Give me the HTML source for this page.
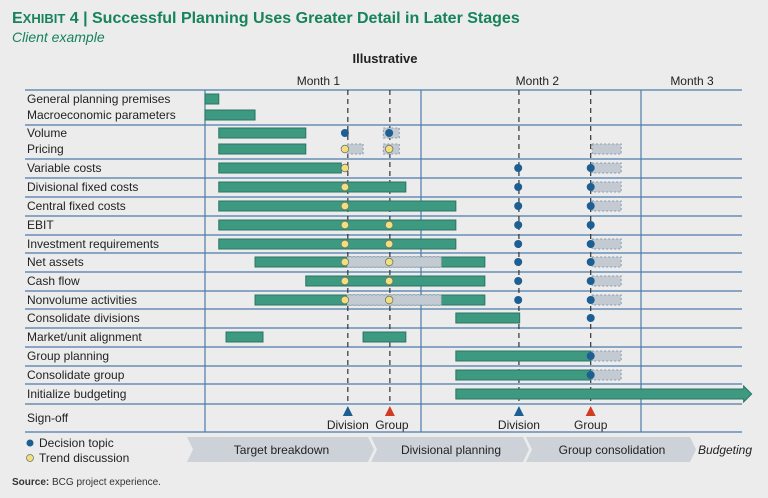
<!DOCTYPE html>
<html><head><meta charset="utf-8"><style>
body{margin:0;background:#ececed;}
svg{display:block;font-family:"Liberation Sans",sans-serif;}
</style></head><body>
<svg width="768" height="498" viewBox="0 0 768 498">
<text x="12" y="23" font-size="16" font-weight="bold" fill="#16835a">E<tspan font-size="13">XHIBIT</tspan> 4 | Successful Planning Uses Greater Detail in Later Stages</text>
<text x="12" y="42" font-size="14" font-style="italic" fill="#16835a">Client example</text>
<text x="385" y="63" font-size="13" font-weight="bold" text-anchor="middle" fill="#222">Illustrative</text>
<g id="grid"></g>
<g id="marks"></g>
<g id="labels"></g>
<text x="12" y="485" font-size="10" fill="#333"><tspan font-weight="bold">Source:</tspan> BCG project experience.</text>
</svg>
<script>
const NS="http://www.w3.org/2000/svg";
const rows=["General planning premises","Macroeconomic parameters","Volume","Pricing","Variable costs","Divisional fixed costs","Central fixed costs","EBIT","Investment requirements","Net assets","Cash flow","Nonvolume activities","Consolidate divisions","Market/unit alignment","Group planning","Consolidate group","Initialize budgeting","Sign-off"];
const rowY=[99,115,133,149,168,187,206,225,244,262,281,300,318,337,356,375,394,418];
const hLines=[90,125,159,178,197,216,235,253,272,291,309,328,347,366,384,404,432];
// bars: [rowIndex, startDay, endDay]
const bars=[[0,0,1.9],[1,0,6.9],[2,1.9,13.9],[3,1.9,13.9],[4,1.9,18.8],[5,1.9,27.7],[6,1.9,34.6],[7,1.9,34.6],[8,1.9,34.6],[9,6.9,38.6],[10,13.9,38.6],[11,6.9,38.6],[12,34.6,43.4],[13,2.9,8],[13,21.8,27.7],[14,34.6,53.2],[15,34.6,53.2]];
const arrowBar=[16,34.6,75.4];
// dashed (pending) boxes
const pending=[[2,24.6,26.8],[3,19.6,21.8],[3,24.6,26.8],[3,53.4,57.4],[4,53.4,57.4],[5,53.4,57.4],[6,53.4,57.4],[8,53.4,57.4],[9,19.6,32.6],[10,53.4,57.4],[9,53.4,57.4],[11,19.6,32.6],[11,53.4,57.4],[14,53.4,57.4],[15,53.4,57.4]];
const decisions=[[2,19.3],[2,25.4],[4,43.2],[4,53.2],[5,43.2],[5,53.2],[6,43.2],[6,53.2],[7,43.2],[7,53.2],[8,43.2],[8,53.2],[9,43.2],[9,53.2],[10,43.2],[10,53.2],[11,43.2],[11,53.2],[12,53.2],[14,53.2],[15,53.2]];
const trends=[[3,19.3],[3,25.4],[4,19.3],[5,19.3],[6,19.3],[7,19.3],[7,25.4],[8,19.3],[8,25.4],[9,19.3],[9,25.4],[10,19.3],[10,25.4],[11,19.3],[11,25.4]];
const signoffs=[[19.7,"Division","#1d5f93"],[25.5,"Group","#d23b23"],[43.3,"Division","#1d5f93"],[53.2,"Group","#d23b23"]];
const months=["Month 1","Month 2","Month 3"];
const monthBounds=[0,29.9,60.4];
const phases=["Target breakdown","Divisional planning","Group consolidation"];
const x=d=>205+d*7.25;
function el(t,a,p){const e=document.createElementNS(NS,t);for(const k in a)e.setAttribute(k,a[k]);p.appendChild(e);return e;}
const G=document.getElementById('grid'),M=document.getElementById('marks'),L=document.getElementById('labels');
hLines.forEach(y=>{const e=el('line',{x1:25,x2:742,y1:y,y2:y,stroke:'#4b7cab','stroke-width':1.3},G);

});
[205,421,641].forEach(v=>{const e=el('line',{x1:v,x2:v,y1:90,y2:432,stroke:'#4b7cab','stroke-width':1.2},G);

});
signoffs.forEach(s=>{const e=el('line',{x1:x(s[0]),x2:x(s[0]),y1:90,y2:404,stroke:'#333','stroke-width':1.2,'stroke-dasharray':'5,4'},G);

});
months.forEach((m,i)=>{const c=i<2?(x(monthBounds[i])+x(monthBounds[i+1]))/2+5:692;const t=el('text',{x:c,y:85,'font-size':12,'text-anchor':'middle',fill:'#222'},L);t.textContent=m;

});
rows.forEach((r,i)=>{const t=el('text',{x:27,y:rowY[i]+4,'font-size':12,fill:'#222'},L);t.textContent=r;

});
bars.forEach(b=>{const e=el('rect',{x:x(b[1]),y:rowY[b[0]]-5,width:x(b[2])-x(b[1]),height:10,fill:'#3d9a80',stroke:'#2a7464','stroke-width':1},M);

});
{const y=rowY[arrowBar[0]],x0=x(arrowBar[1]),x1=x(arrowBar[2]);const e=el('polygon',{points:`${x0},${y-5} ${x1-8},${y-5} ${x1-8},${y-8} ${x1},${y} ${x1-8},${y+8} ${x1-8},${y+5} ${x0},${y+5}`,fill:'#3d9a80',stroke:'#2a7464'},M);

}
pending.forEach(b=>{const e=el('rect',{x:x(b[1]),y:rowY[b[0]]-5,width:x(b[2])-x(b[1]),height:10,fill:'#c4cad2',stroke:'#8a9bb0','stroke-width':1,'stroke-dasharray':'2,2'},M);

});
decisions.forEach(d=>{const e=el('circle',{cx:x(d[1]),cy:rowY[d[0]],r:4,fill:'#1d5f93'},M);

});
trends.forEach(d=>{const e=el('circle',{cx:x(d[1]),cy:rowY[d[0]],r:3.8,fill:'#f3df7e',stroke:'#6a7a6a','stroke-width':0.8},M);

});
signoffs.forEach(s=>{const c=x(s[0]);const e=el('polygon',{points:`${c-5},416 ${c+5},416 ${c},406`,fill:s[2]},M);


const t=el('text',{x:c+(s[1]=="Group"&&s[0]<30?2:0),y:429,'font-size':12,'text-anchor':'middle',fill:'#222'},L);t.textContent=s[1];

});
// legend
[[443,'#1d5f93','Decision topic'],[458,'#f3df7e','Trend discussion']].forEach(l=>{const c=el('circle',{cx:30,cy:l[0],r:3.5,fill:l[1],stroke:l[1]=='#f3df7e'?'#6a7a6a':'none','stroke-width':0.8},L);


const t=el('text',{x:39,y:l[0]+4,'font-size':12,fill:'#222'},L);t.textContent=l[2];

});
const ph=[[187,368],[371,523],[526,690]];
phases.forEach((p,i)=>{const a=ph[i][0],b=ph[i][1];const e=el('polygon',{points:`${a},437 ${b},437 ${b+6},449.5 ${b},462 ${a},462 ${a+6},449.5`,fill:'#cdd2d8'},L);


const t=el('text',{x:(a+b)/2+4,y:454,'font-size':12,'text-anchor':'middle',fill:'#222'},L);t.textContent=p;

});
{const t=el('text',{x:725,y:454,'font-size':12,'font-style':'italic','text-anchor':'middle',fill:'#222'},L);t.textContent='Budgeting';

}
</script>
</body></html>
